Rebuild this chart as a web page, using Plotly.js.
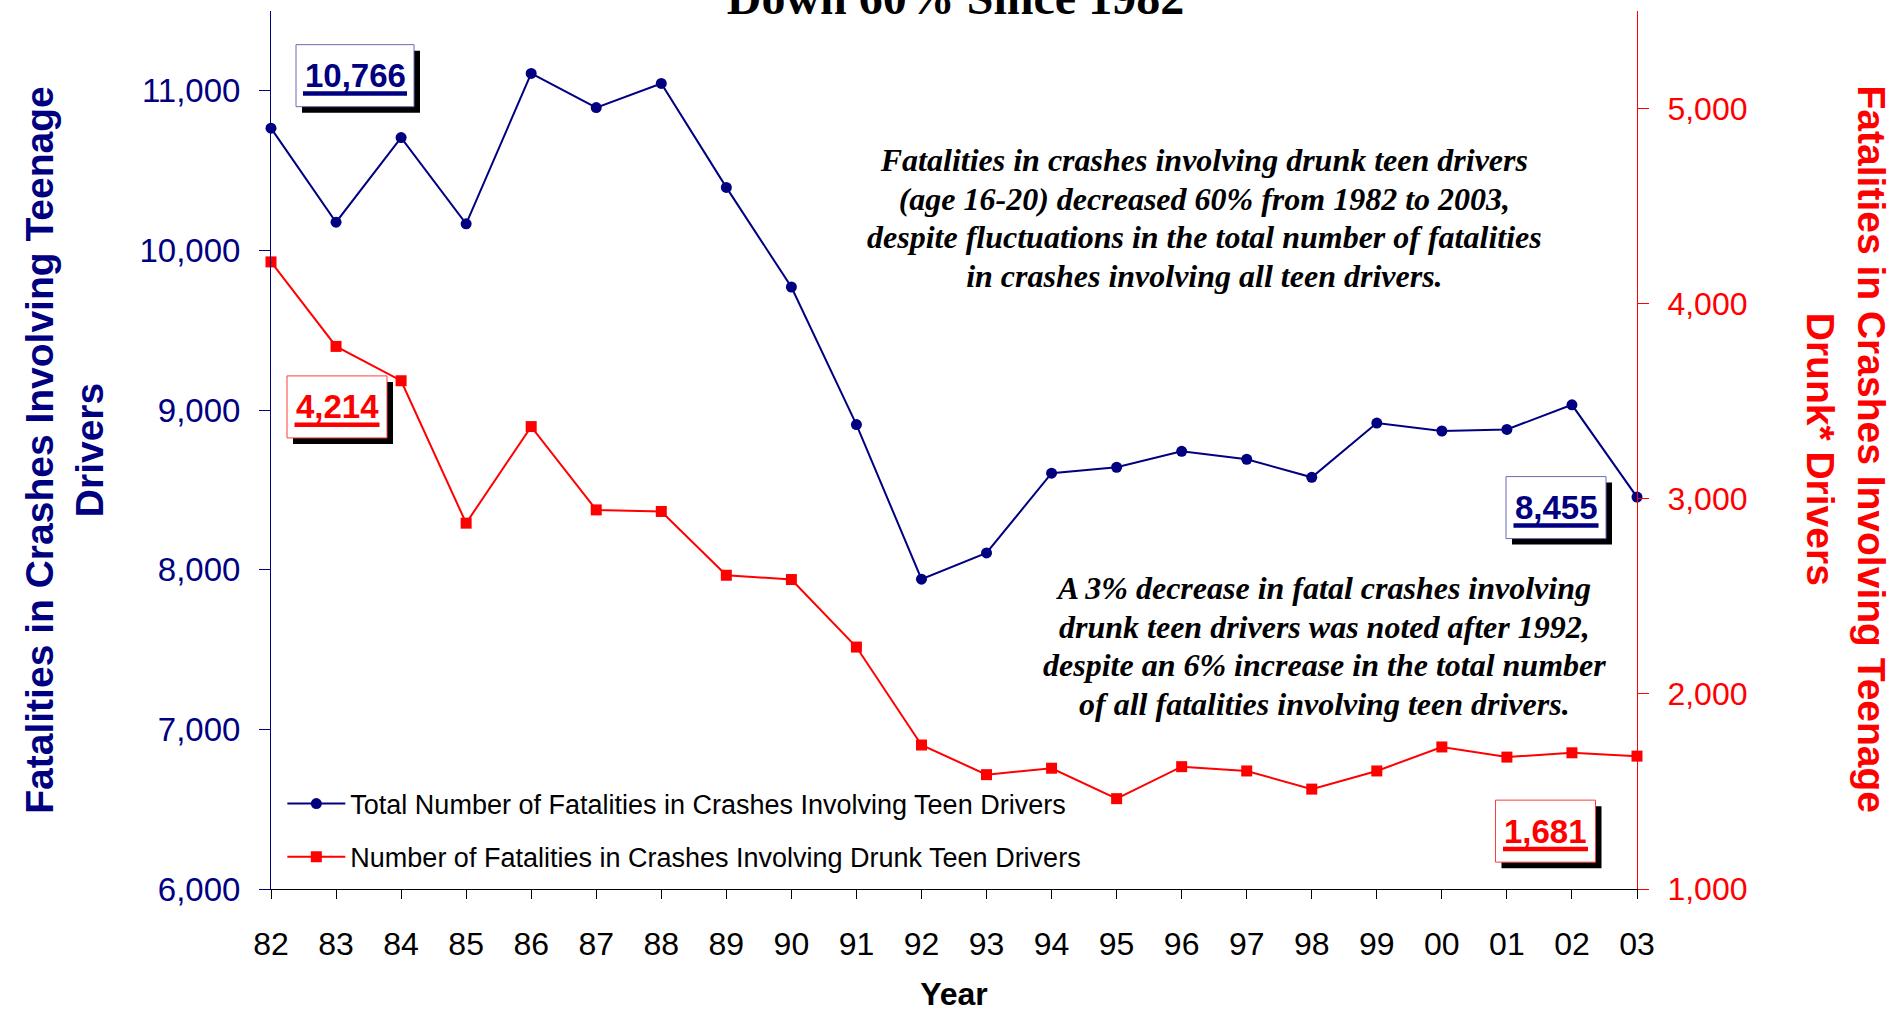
<!DOCTYPE html>
<html>
<head>
<meta charset="utf-8">
<script src="https://cdn.plot.ly/plotly-3.0.1.min.js"></script>
<style>
html, body { margin: 0; padding: 0; background: #ffffff; }
#chart { width: 1892px; height: 1012px; }
</style>
</head>
<body>
<div id="chart"></div>
<script>
// ---- data ----
const years = [1982, 1983, 1984, 1985, 1986, 1987, 1988, 1989, 1990, 1991, 1992,
               1993, 1994, 1995, 1996, 1997, 1998, 1999, 2000, 2001, 2002, 2003];
const yearLabels = ['82', '83', '84', '85', '86', '87', '88', '89', '90', '91', '92',
                    '93', '94', '95', '96', '97', '98', '99', '00', '01', '02', '03'];
const totalTeenFatalities = [10766, 10177, 10707, 10167, 11109, 10895, 11046, 10395, 9771, 8909, 7941,
                             8105, 8605, 8642, 8742, 8692, 8579, 8919, 8869, 8879, 9033, 8455];
const drunkTeenFatalities = [4214, 3781, 3605, 2875, 3370, 2943, 2935, 2608, 2586, 2240, 1738,
                             1586, 1619, 1463, 1627, 1605, 1512, 1605, 1728, 1676, 1698, 1681];
const leftTicks = [6000, 7000, 8000, 9000, 10000, 11000];
const rightTicks = [1000, 2000, 3000, 4000, 5000];
const seriesNames = ['Total Number of Fatalities in Crashes Involving Teen Drivers',
                     'Number of Fatalities in Crashes Involving Drunk Teen Drivers'];
const note1Lines = ['Fatalities in crashes involving drunk teen drivers',
                    '(age 16-20) decreased 60% from 1982 to 2003,',
                    'despite fluctuations in the total number of fatalities',
                    'in crashes involving all teen drivers.'];
const note2Lines = ['A 3% decrease in fatal crashes involving',
                    'drunk teen drivers was noted after 1992,',
                    'despite an 6% increase in the total number',
                    'of all fatalities involving teen drivers.'];

// ---- styles ----
const NAVY = '#000080';
const RED = '#ff0000';
const SANS = '"Liberation Sans", Arial, sans-serif';
const SERIF = '"Liberation Serif", "Times New Roman", serif';

const traces = [
  {
    type: 'scatter', mode: 'lines+markers', x: years, y: totalTeenFatalities,
    name: seriesNames[0], yaxis: 'y', legendgroup: 'a', cliponaxis: false,
    line: { color: NAVY, width: 2 },
    marker: { symbol: 'circle', size: 11, color: NAVY }
  },
  {
    type: 'scatter', mode: 'lines+markers', x: years, y: drunkTeenFatalities,
    name: seriesNames[1], yaxis: 'y2', legendgroup: 'b', cliponaxis: false,
    line: { color: RED, width: 2 },
    marker: { symbol: 'square', size: 11, color: RED }
  }
];

function fmt(v) { return v.toLocaleString('en-US'); }

const shapes = [];
const annotations = [];

// value call-out box anchored to a data point; dx, dy = box centre offset in px (dy up)
function valueBox(xv, yv, yref, color, border, dx, dy, W, H, ulW) {
  const anchor = { xref: 'x', yref: yref, xsizemode: 'pixel', ysizemode: 'pixel',
                   xanchor: xv, yanchor: yv, layer: 'above' };
  // drop shadow
  shapes.push(Object.assign({}, anchor, {
    type: 'rect', x0: dx - W / 2 + 6, x1: dx + W / 2 + 6, y0: dy - H / 2 - 6, y1: dy + H / 2 - 6,
    fillcolor: '#000', line: { width: 0 }
  }));
  // white framed box
  shapes.push(Object.assign({}, anchor, {
    type: 'rect', x0: dx - W / 2, x1: dx + W / 2, y0: dy - H / 2, y1: dy + H / 2,
    fillcolor: '#fff', line: { color: border, width: 1 }
  }));
  // thick underline
  shapes.push(Object.assign({}, anchor, {
    type: 'line', x0: dx - ulW / 2, x1: dx + ulW / 2, y0: dy - 17.8, y1: dy - 17.8,
    line: { color: color, width: 4.5 }
  }));
  annotations.push({
    x: xv, y: yv, xref: 'x', yref: yref, showarrow: false,
    text: '<b>' + fmt(yv) + '</b>',
    xanchor: 'center', yanchor: 'middle', xshift: dx, yshift: dy,
    font: { family: SANS, size: 33, color: color }
  });
}

const last = years.length - 1;

function noteText(lines) {
  return lines.map(l => '<b><i><span style="font-size:32px">' + l + '</span></i></b>').join('<br>');
}

const layout = {
  width: 1892, height: 1012,
  margin: { l: 271, r: 255, t: 11, b: 123, pad: 0 },
  paper_bgcolor: '#ffffff', plot_bgcolor: '#ffffff',
  showlegend: true,
  title: {
    text: '<b>Down 60% Since 1982</b>',
    font: { family: SERIF, size: 48, color: '#000' },
    xref: 'container', x: 0.505, xanchor: 'center',
    yref: 'container', y: 1 - 14 / 1012, yanchor: 'bottom'
  },
  xaxis: {
    range: [1982, 2003], tickvals: years, ticktext: yearLabels,
    ticks: 'outside', ticklen: 9, tickwidth: 1, tickcolor: '#000',
    showline: true, linecolor: '#000', linewidth: 1,
    showgrid: false, zeroline: false,
    tickfont: { family: SANS, size: 32, color: '#000' },
    ticklabelstandoff: 18,
    title: { text: '<b>Year</b>', font: { family: SANS, size: 32, color: '#000' }, standoff: 46 }
  },
  xaxis2: {
    overlaying: 'x', anchor: 'y', side: 'bottom',
    range: [1982, 2003], tickvals: years, ticktext: yearLabels,
    ticks: 'inside', ticklen: 9, tickwidth: 1, tickcolor: '#000',
    showticklabels: false, showline: false, showgrid: false, zeroline: false
  },
  yaxis: {
    range: [6000, 11500], tickvals: leftTicks, tickformat: ',d',
    ticks: 'outside', ticklen: 11, tickwidth: 1, tickcolor: NAVY,
    showline: true, linecolor: NAVY, linewidth: 1,
    showgrid: false, zeroline: false,
    tickfont: { family: SANS, size: 33, color: NAVY },
    ticklabelstandoff: 12,
    title: {
      text: '<b>Fatalities in Crashes Involving Teenage<br>Drivers</b>',
      font: { family: SANS, size: 39, color: NAVY }, standoff: 23
    }
  },
  yaxis3: {
    overlaying: 'y', anchor: 'x', side: 'left',
    range: [6000, 11500], tickvals: leftTicks,
    ticks: 'inside', ticklen: 11, tickwidth: 1, tickcolor: NAVY,
    showticklabels: false, showline: false, showgrid: false, zeroline: false
  },
  yaxis2: {
    overlaying: 'y', anchor: 'x', side: 'right',
    range: [1000, 5500], tickvals: rightTicks, tickformat: ',d',
    ticks: 'outside', ticklen: 11, tickwidth: 1, tickcolor: RED,
    showline: true, linecolor: RED, linewidth: 1,
    showgrid: false, zeroline: false,
    tickfont: { family: SANS, size: 32, color: RED },
    ticklabelstandoff: 12
  },
  yaxis4: {
    overlaying: 'y', anchor: 'x', side: 'right',
    range: [1000, 5500], tickvals: rightTicks,
    ticks: 'inside', ticklen: 11, tickwidth: 1, tickcolor: RED,
    showticklabels: false, showline: false, showgrid: false, zeroline: false
  },
  legend: {
    x: 0.0083, xanchor: 'left', y: 0.1247, yanchor: 'top',
    bgcolor: 'rgba(0,0,0,0)', borderwidth: 0,
    font: { family: SANS, size: 27, color: '#000' },
    itemwidth: 58, tracegroupgap: 15, traceorder: 'grouped'
  },
  shapes: shapes,
  annotations: annotations
};

valueBox(years[0], totalTeenFatalities[0], 'y', NAVY, '#6b6bb5', 84, 52.5, 118, 62, 104);
valueBox(years[0], drunkTeenFatalities[0], 'y2', RED, '#ff3b3b', 66, -145, 100, 62, 85);
valueBox(years[last], totalTeenFatalities[last], 'y', NAVY, '#6b6bb5', -81, -10.5, 100, 62, 85);
valueBox(years[last], drunkTeenFatalities[last], 'y2', RED, '#ff3b3b', -91.5, -75, 100, 62, 85);

annotations.push(
  {
    xref: 'paper', yref: 'paper', x: (1205 - 270.7) / 1366.6, y: (889 - 218.4) / 878, showarrow: false,
    xanchor: 'center', yanchor: 'middle', align: 'center',
    font: { family: SERIF, size: 29.7, color: '#000' },
    text: noteText(note1Lines)
  },
  {
    xref: 'paper', yref: 'paper', x: (1325 - 270.7) / 1366.6, y: (889 - 645.5) / 878, showarrow: false,
    xanchor: 'center', yanchor: 'middle', align: 'center',
    font: { family: SERIF, size: 29.7, color: '#000' },
    text: noteText(note2Lines)
  },
  {
    xref: 'paper', yref: 'paper', x: 1.1527, y: 0.501, showarrow: false,
    xanchor: 'center', yanchor: 'middle', textangle: 90, align: 'center',
    font: { family: SANS, size: 39, color: RED },
    text: '<b>Fatalities in Crashes Involving Teenage<br>Drunk* Drivers</b>'
  }
);

Plotly.newPlot('chart', traces, layout, { staticPlot: true, displayModeBar: false });
</script>
</body>
</html>
